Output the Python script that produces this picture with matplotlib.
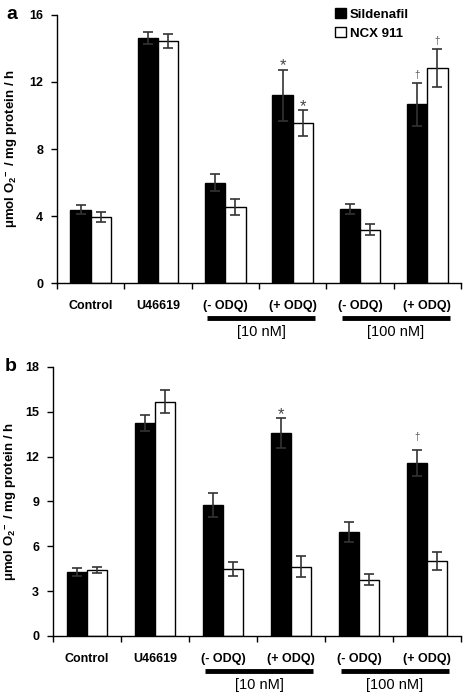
import matplotlib
matplotlib.use("Agg")
import matplotlib.pyplot as plt
import matplotlib.transforms as mtransforms
import numpy as np

plt.rcParams['font.family'] = ['Liberation Sans', 'DejaVu Sans']
plt.rcParams['mathtext.fontset'] = 'custom'
plt.rcParams['mathtext.rm'] = 'Liberation Sans:bold'
plt.rcParams['mathtext.it'] = 'Liberation Sans:bold'
plt.rcParams['mathtext.bf'] = 'Liberation Sans:bold'

categories = ['Control', 'U46619', '(- ODQ)', '(+ ODQ)', '(- ODQ)', '(+ ODQ)']
groups = ['[10 nM]', '[100 nM]']
series = ['Sildenafil', 'NCX 911']

# Panel a
a_sild = [4.38, 14.61, 5.99, 11.20, 4.42, 10.67]
a_sild_err = [0.27, 0.37, 0.50, 1.54, 0.30, 1.27]
a_ncx = [3.94, 14.45, 4.52, 9.53, 3.18, 12.82]
a_ncx_err = [0.32, 0.40, 0.48, 0.78, 0.34, 1.13]
a_marks_sild = ['', '', '', '*', '', '†']
a_marks_ncx = ['', '', '', '*', '', '†']

# Panel b
b_sild = [4.28, 14.25, 8.79, 13.58, 6.96, 11.55]
b_sild_err = [0.25, 0.52, 0.80, 1.03, 0.67, 0.87]
b_ncx = [4.44, 15.68, 4.48, 4.64, 3.77, 5.00]
b_ncx_err = [0.20, 0.76, 0.45, 0.69, 0.38, 0.60]
b_marks_sild = ['', '', '', '*', '', '†']
b_marks_ncx = ['', '', '', '', '', '']

ylabel = 'μmol O$_2$$^{\\cdot\\!\\!\\!-}$ / mg protein / h'

fig = plt.figure(figsize=(4.64, 6.94), dpi=100)
ax_a = fig.add_axes([0.1228, 0.5922, 0.8707, 0.3862])
ax_b = fig.add_axes([0.1142, 0.0836, 0.8793, 0.3876])


def draw(ax, s, se, n, ne, ms, mn, ymax, yticks, letter, ylab_x, letter_x,
         dag_off, legend=False):
    x = np.arange(len(categories)) + 0.5
    w = 0.3
    ekw = dict(ecolor='#333333', elinewidth=1.2, capsize=3.5, capthick=1.2)
    ax.bar(x - w / 2, s, w, color='black', edgecolor='black', linewidth=1.0,
           yerr=se, error_kw=ekw, label=series[0], zorder=2)
    ax.bar(x + w / 2, n, w, color='white', edgecolor='black', linewidth=1.0,
           yerr=ne, error_kw=ekw, label=series[1], zorder=2)
    for i in range(len(categories)):
        for xx, v, e, m in ((x[i] - w / 2, s[i], se[i], ms[i]),
                            (x[i] + w / 2, n[i], ne[i], mn[i])):
            if m == '*':
                ax.annotate(m, (xx, v + e), xytext=(0, -1), textcoords='offset pixels',
                            ha='center', va='baseline', fontsize=12, color='#444444')
            elif m:
                ax.annotate(m, (xx, v + e), xytext=(0, dag_off), textcoords='offset pixels',
                            ha='center', va='baseline', fontsize=7, color='#555555')
    ax.set_xlim(0, 6)
    ax.set_ylim(0, ymax)
    ax.set_yticks(yticks)
    ax.set_yticklabels([str(t) for t in yticks], fontweight='bold', fontsize=9)
    ax.set_xticks(x)
    ax.set_xticklabels(categories, fontweight='bold', fontsize=9)
    ax.tick_params(axis='x', which='major', length=0, pad=12)
    ax.set_xticks(np.arange(0, 7), minor=True)
    ax.tick_params(axis='x', which='minor', length=4, direction='out', width=1)
    ax.tick_params(axis='y', length=4, direction='out', width=1, pad=6)
    for sp in ['top', 'right']:
        ax.spines[sp].set_visible(False)
    for sp in ['left', 'bottom']:
        ax.spines[sp].set_linewidth(1.0)
    ax.set_ylabel(ylabel, fontweight='bold', fontsize=9.5)
    ax.yaxis.set_label_coords(ylab_x, 0.5)
    trans = mtransforms.blended_transform_factory(ax.transData, ax.transAxes)
    for gi, g in enumerate(groups):
        x0 = 2 + 2 * gi + 0.23
        x1 = 2 + 2 * gi + 1.83
        ax.plot([x0, x1], [-0.13, -0.13], color='black', lw=3.5, transform=trans,
                clip_on=False, solid_capstyle='butt')
        ax.text((x0 + x1) / 2, -0.155, g, transform=trans, ha='center', va='top',
                fontsize=10.5)
    ax.text(letter_x, 1.0, letter, transform=ax.transAxes, fontsize=14,
            fontweight='bold', ha='left', va='center')
    if legend:
        ax.legend(loc='upper right', bbox_to_anchor=(0.90, 1.07), frameon=False,
                  prop=dict(weight='bold', size=9.5), handlelength=0.8,
                  handleheight=0.8, handletextpad=0.3, labelspacing=0.5)


draw(ax_a, a_sild, a_sild_err, a_ncx, a_ncx_err, a_marks_sild, a_marks_ncx,
     16, [0, 4, 8, 12, 16], 'a', -0.092, -0.125, 5, legend=True)
draw(ax_b, b_sild, b_sild_err, b_ncx, b_ncx_err, b_marks_sild, b_marks_ncx,
     18, [0, 3, 6, 9, 12, 15, 18], 'b', -0.083, -0.118, 10)

fig.savefig('out.png', dpi=100)
